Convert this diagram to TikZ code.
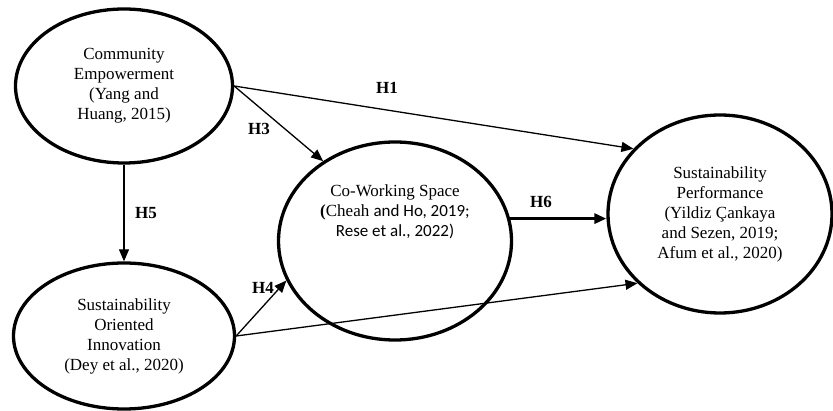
\documentclass[tikz,border=0pt]{standalone}
\usepackage{fontspec}
\setmainfont{Liberation Serif}
\newfontfamily\calibri{Carlito}
\usetikzlibrary{shapes.geometric,arrows.meta}

\begin{document}
\begin{tikzpicture}[x=1pt, y=-1pt,
    construct/.style={draw, ellipse, line width=3.3pt, inner sep=0pt, align=center, font=\fontsize{17}{20}\selectfont},
    link/.style={-{Triangle[length=12pt,width=10pt]}, line width=1.3pt},
    hyp/.style={font=\fontsize{17}{20}\selectfont\bfseries}]
    \useasboundingbox (0,0) rectangle (833,411);

    % Constructs
    \node[construct, minimum width=217pt, minimum height=154pt] (ce) at (124,86) {
        Community\\ Empowerment\\ (Yang and\\ Huang, 2015)
    };
    \node[construct, minimum width=221pt, minimum height=146pt] (soi) at (124,336) {
        Sustainability\\ Oriented\\ Innovation\\ (Dey et al., 2020)
    };
    \node[construct, minimum width=233pt, minimum height=198pt, text depth=60pt] (cw) at (395,241) {
        Co-Working Space\\ {\bfseries(}Cheah {\calibri and Ho, 2019;}\\ {\calibri Rese et al., 2022)}
    };
    \node[construct, minimum width=224pt, minimum height=198pt] (sp) at (720,214) {
        Sustainability\\ Performance\\ (Yildiz Çankaya\\ and Sezen, 2019;\\ Afum et al., 2020)
    };

    % Hypotheses
    \draw[link] (ce.east) -- (sp.143);
    \draw[link] (ce.east) -- (cw.132);
    \draw[link] (ce.south) -- (soi.north);
    \draw[link] (soi.east) -- (cw.200);
    \draw[link] (soi.east) -- (sp.220);
    \draw[link, line width=3pt] (cw.11) -- (cw.11 -| sp.west);

    \node[hyp] (h1) at (387,88) {H1};
    \node[hyp] (h3) at (259,129) {H3};
    \node[hyp] (h5) at (146,213) {H5};
    \node[hyp] (h4) at (263,288) {H4};
    \node[hyp] (h6) at (541,202) {H6};
\end{tikzpicture}
\end{document}
